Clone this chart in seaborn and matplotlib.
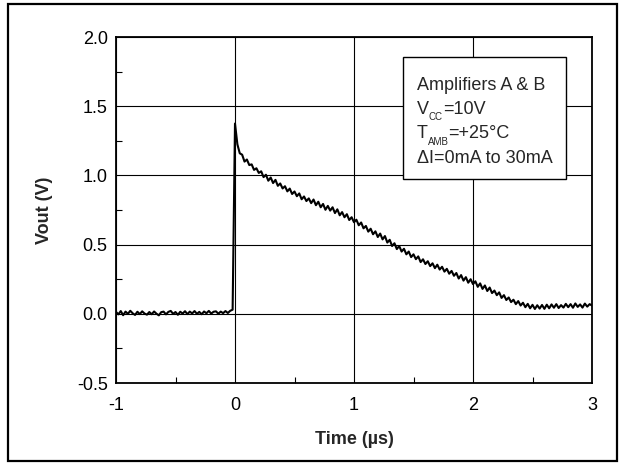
import numpy as np
import pandas as pd
import matplotlib
matplotlib.use("Agg")
import matplotlib.pyplot as plt
from matplotlib.patches import Rectangle
from matplotlib.ticker import MultipleLocator
import seaborn as sns

# sample times (us), one reading every 20 ns
time_us = np.round(np.arange(-1.0, 3.0001, 0.02), 2)

# output voltage
baseline = [0.014, -0.004, 0.020, -0.010, 0.016, 0.000, 0.022, 0.004, -0.008, 0.015,
            -0.002, 0.018, 0.002, -0.006, 0.013, -0.003, 0.017, 0.001, -0.011, 0.012,
            0.016, -0.004, 0.014, 0.021, 0.000, 0.013, -0.007, 0.015, 0.002, 0.019,
            -0.002, 0.016, 0.003, 0.020, 0.000, 0.014, -0.003, 0.017, 0.004, 0.021,
            0.002, 0.015, 0.018, 0.001, 0.016, 0.005, 0.020, 0.006, 0.022]
edge = [0.030, 1.375]
decay = [1.225, 1.160, 1.150, 1.100, 1.115, 1.075, 1.080, 1.040, 1.052, 1.018,
         1.030, 0.988, 1.005, 0.962, 0.985, 0.945, 0.968, 0.925, 0.942, 0.906,
         0.922, 0.885, 0.905, 0.866, 0.884, 0.850, 0.870, 0.828, 0.848, 0.815,
         0.834, 0.800, 0.826, 0.785, 0.810, 0.770, 0.794, 0.752, 0.780, 0.746,
         0.770, 0.728, 0.755, 0.712, 0.735, 0.698, 0.720, 0.678, 0.698, 0.662,
         0.680, 0.640, 0.660, 0.618, 0.635, 0.594, 0.615, 0.575, 0.596, 0.555,
         0.580, 0.538, 0.562, 0.515, 0.535, 0.490, 0.510, 0.468, 0.490, 0.450,
         0.470, 0.430, 0.450, 0.410, 0.430, 0.395, 0.415, 0.374, 0.394, 0.360,
         0.380, 0.345, 0.365, 0.330, 0.355, 0.320, 0.340, 0.305, 0.325, 0.290,
         0.310, 0.275, 0.295, 0.255, 0.280, 0.240, 0.265, 0.225, 0.250, 0.215,
         0.235, 0.195, 0.220, 0.180, 0.205, 0.165, 0.190, 0.150, 0.168, 0.135,
         0.155, 0.115, 0.135, 0.100, 0.118, 0.085, 0.102, 0.070, 0.092, 0.060,
         0.080, 0.048, 0.072, 0.040, 0.065, 0.035, 0.062, 0.038, 0.064, 0.036,
         0.066, 0.040, 0.068, 0.044, 0.070, 0.042, 0.063, 0.045, 0.072, 0.048,
         0.070, 0.044, 0.075, 0.050, 0.068, 0.045, 0.074, 0.052, 0.070, 0.060]
vout = baseline + edge + decay

# box text: (text, is_subscript) pieces per line
legend_lines = [[("Amplifiers A & B", False)],
                [("V", False), ("CC", True), ("=10V", False)],
                [("T", False), ("AMB", True), ("=+25°C", False)],
                [("\u0394I=0mA to 30mA", False)]]

df = pd.DataFrame({"Time": time_us, "Vout": vout})

sns.set_style("ticks")
plt.rcParams["font.family"] = ["Liberation Sans", "DejaVu Sans"]

fig = plt.figure(figsize=(6.25, 4.65), dpi=100)
ax = fig.add_axes([0.1856, 0.1763, 0.7616, 0.744])

sns.lineplot(data=df, x="Time", y="Vout", ax=ax, color="black",
             linewidth=1.5, estimator=None, sort=False)

ax.set_xlim(-1, 3)
ax.set_ylim(-0.5, 2.0)
ax.xaxis.set_minor_locator(MultipleLocator(0.5))
ax.yaxis.set_minor_locator(MultipleLocator(0.25))
ax.set_yticks([-0.5, 0.0, 0.5, 1.0, 1.5, 2.0])
ax.set_yticklabels(["-0.5", "0.0", "0.5", "1.0", "1.5", "2.0"])
ax.set_xticks([-1, 0, 1, 2, 3])
ax.set_xticklabels(["-1", "0", "1", "2", "3"])
ax.grid(True, which="major", color="black", linewidth=0.8)
ax.tick_params(which="both", direction="in", colors="black", labelsize=13)
ax.tick_params(which="major", length=0)
ax.tick_params(which="minor", length=4, width=0.8)
ax.tick_params(axis="x", pad=10)
ax.tick_params(axis="y", pad=6)
for s in ax.spines.values():
    s.set_visible(True)
    s.set_linewidth(1.3)
    s.set_color("black")

ax.set_xlabel("Time (\u00b5s)", fontsize=13, fontweight="bold", labelpad=12)
ax.set_ylabel("Vout (V)", fontsize=13, fontweight="bold", labelpad=17)

# annotation box
ax.add_patch(Rectangle((0.603, 0.590), 0.342, 0.352, transform=ax.transAxes,
                       facecolor="white", edgecolor="black", linewidth=1.0, zorder=5))
renderer = fig.canvas.get_renderer()
ys = [0.847, 0.779, 0.707, 0.636]
for parts, y in zip(legend_lines, ys):
    dx = 0.0
    for txt, sub in parts:
        t = ax.annotate(txt, xy=(0.632, y), xycoords="axes fraction",
                        xytext=(dx, -5 if sub else 0), textcoords="offset points",
                        fontsize=7 if sub else 13, va="baseline", ha="left", zorder=6)
        dx += t.get_window_extent(renderer).width * 72 / fig.dpi

# outer frame
fig.add_artist(Rectangle((0.0128, 0.0086), 0.974, 0.983, transform=fig.transFigure,
                         fill=False, edgecolor="black", linewidth=1.6))

fig.savefig("out.png", dpi=100)
